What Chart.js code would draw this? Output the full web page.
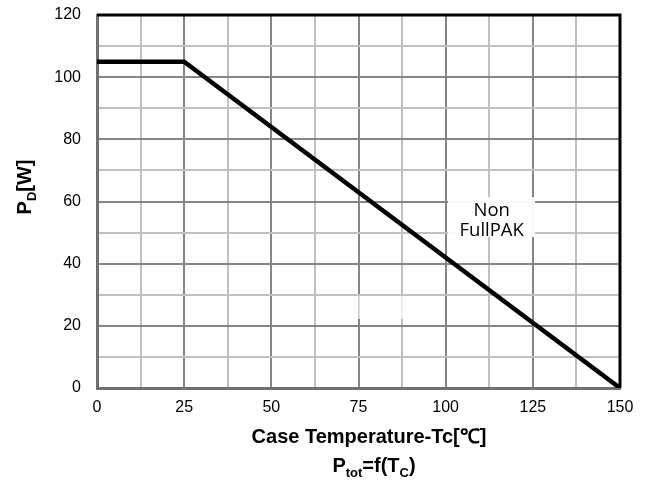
<!DOCTYPE html>
<html>
<head>
<meta charset="utf-8">
<script src="https://cdn.jsdelivr.net/npm/chart.js@4"></script>
<style>
html,body{margin:0;padding:0;background:#fff;}
#c{display:block;}
</style>
</head>
<body>
<canvas id="c" width="648" height="481"></canvas>
<script>
// ---- data ----
const caseTemp = [0, 25, 150];          // Tc [°C]
const powerDiss = [105, 105, 0];        // PD [W]
const xTickValues = [0, 25, 50, 75, 100, 125, 150];
const yTickValues = [0, 20, 40, 60, 80, 100, 120];
const xTitle = 'Case Temperature-Tc[℃]';
const noteLines = ['Non', 'FullPAK'];
const notePos = {x: 113.2, y: 57};      // data coords of the note

const points = caseTemp.map((x, i) => ({x, y: powerDiss[i]}));

function drawRich(ctx, parts, cx, cy, size) {
  const subSize = Math.round(size * 0.65);
  const fMain = 'bold ' + size + 'px "Liberation Sans", Arial, sans-serif';
  const fSub = 'bold ' + subSize + 'px "Liberation Sans", Arial, sans-serif';
  let total = 0;
  parts.forEach(p => { ctx.font = p.sub ? fSub : fMain; p.w = ctx.measureText(p.t).width; total += p.w; });
  let x = cx - total / 2;
  ctx.textAlign = 'left';
  ctx.textBaseline = 'alphabetic';
  const base = cy + size * 0.36;
  parts.forEach(p => {
    ctx.font = p.sub ? fSub : fMain;
    ctx.fillText(p.t, x, p.sub ? base + size * 0.25 : base);
    x += p.w;
  });
}

const decor = {
  id: 'decor',
  beforeDatasetsDraw(chart) {
    const {ctx, chartArea: a, scales: {x, y}} = chart;
    ctx.save();
    // faint empty box
    ctx.fillStyle = 'rgba(255,255,255,0.7)';
    const bx0 = x.getPixelForValue(74.9), bx1 = x.getPixelForValue(87.8);
    const by0 = y.getPixelForValue(29.6), by1 = y.getPixelForValue(22.2);
    ctx.fillRect(bx0, by0, bx1 - bx0, by1 - by0);
    // note box
    ctx.fillStyle = 'rgba(255,255,255,0.95)';
    const nx0 = x.getPixelForValue(100.7), nx1 = x.getPixelForValue(125.6);
    const ny0 = y.getPixelForValue(61.4), ny1 = y.getPixelForValue(48.6);
    ctx.fillRect(nx0, ny0, nx1 - nx0, ny1 - ny0);
    ctx.fillStyle = '#000';
    ctx.font = '18.5px "Open Sans", sans-serif';
    ctx.textAlign = 'center';
    ctx.textBaseline = 'middle';
    const px = x.getPixelForValue(notePos.x), py = y.getPixelForValue(notePos.y);
    noteLines.forEach((t, i) => ctx.fillText(t, px, py + i * 19.5));
    ctx.restore();
  },
  afterDraw(chart) {
    const {ctx, chartArea: a} = chart;
    ctx.save();
    // top and right black borders
    ctx.strokeStyle = '#000';
    ctx.lineWidth = 3;
    ctx.beginPath();
    ctx.moveTo(a.left, a.top);
    ctx.lineTo(a.right, a.top);
    ctx.lineTo(a.right, a.bottom);
    ctx.stroke();
    ctx.fillStyle = '#000';
    // x title
    drawRich(ctx, [{t: xTitle}], 369, 436, 20);
    drawRich(ctx, [{t: 'P'}, {t: 'tot', sub: true}, {t: '=f(T'}, {t: 'C', sub: true}, {t: ')'}], 374, 465, 20);
    // y title
    ctx.translate(24, 187);
    ctx.rotate(-Math.PI / 2);
    drawRich(ctx, [{t: 'P'}, {t: 'D', sub: true}, {t: '[W]'}], 0, 0, 20);
    ctx.restore();
  }
};

new Chart(document.getElementById('c'), {
  type: 'line',
  data: {
    datasets: [{
      data: points,
      borderColor: '#000',
      borderWidth: 4.5,
      pointRadius: 0,
      fill: false,
      tension: 0
    }]
  },
  options: {
    responsive: false,
    animation: false,
    events: [],
    layout: {padding: {left: 0, top: 15, right: 28, bottom: 0}},
    plugins: {legend: {display: false}, tooltip: {enabled: false}, title: {display: false}},
    scales: {
      x: {
        type: 'linear',
        min: 0, max: 150,
        afterFit(s) { s.height = 93; s.paddingLeft = 0; s.paddingRight = 0; },
        afterBuildTicks(s) {
          const t = [];
          for (let v = 0; v <= 150; v += 12.5) t.push({value: v});
          s.ticks = t;
        },
        ticks: {
          autoSkip: false,
          maxRotation: 0,
          padding: 10,
          color: '#000',
          font: {family: '"Liberation Sans", Arial, sans-serif', size: 16},
          callback: v => xTickValues.includes(v) ? String(v) : ''
        },
        grid: {
          drawTicks: false,
          lineWidth: 2,
          color: c => (c.tick && xTickValues.includes(c.tick.value)) ? '#858585' : '#c0c0c0'
        },
        border: {color: '#707070', width: 3}
      },
      y: {
        min: 0, max: 120,
        afterFit(s) { s.width = 97; s.paddingTop = 0; s.paddingBottom = 0; },
        afterBuildTicks(s) {
          const t = [];
          for (let v = 0; v <= 120; v += 10) t.push({value: v});
          s.ticks = t;
        },
        ticks: {
          autoSkip: false,
          padding: 16,
          color: '#000',
          font: {family: '"Liberation Sans", Arial, sans-serif', size: 16},
          callback: v => yTickValues.includes(v) ? String(v) : ''
        },
        grid: {
          drawTicks: false,
          lineWidth: 2,
          color: c => (c.tick && yTickValues.includes(c.tick.value)) ? '#858585' : '#c0c0c0'
        },
        border: {color: '#707070', width: 3}
      }
    }
  },
  plugins: [decor]
});
</script>
</body>
</html>
